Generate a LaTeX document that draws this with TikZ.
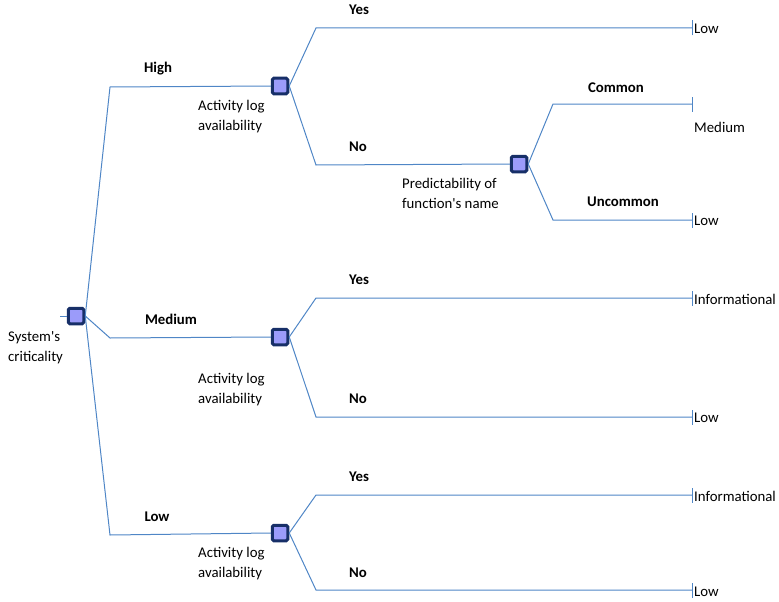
\documentclass[tikz,border=0pt]{standalone}
\usepackage{fontspec}
\setmainfont{Carlito}
\begin{document}
\definecolor{branch}{HTML}{4F86C6}
\definecolor{boxfill}{HTML}{9B9BFA}
\definecolor{boxline}{HTML}{172F68}
\begin{tikzpicture}[x=1pt,y=-1pt,
  font=\fontsize{14.8}{20}\selectfont,
  decision/.style={draw=boxline,line width=3pt,fill=boxfill,rounded corners=1.5pt,
    minimum size=15.5pt,inner sep=0pt},
  link/.style={draw=branch,line width=1pt},
  tick/.style={draw=branch,line width=1pt},
  choice/.style={font=\fontsize{14.8}{20}\selectfont\bfseries,inner sep=0pt},
  note/.style={align=left,anchor=west,inner sep=0pt},
  result/.style={anchor=west,inner sep=0pt}]
\useasboundingbox (0,0) rectangle (779,602);

% decision boxes
\node[decision] (root) at (76,316) {};
\node[decision] (hi)   at (280,86) {};
\node[decision] (pr)   at (519,164) {};
\node[decision] (me)   at (280,337) {};
\node[decision] (lo)   at (280,533) {};

% branch corners
\coordinate (cHigh) at (110,87);
\coordinate (cMed)  at (110,338);
\coordinate (cLow)  at (110,535);
\coordinate (hYes)  at (316,28);
\coordinate (hNo)   at (316,165);
\coordinate (pCom)  at (553,104);
\coordinate (pUnc)  at (553,220);
\coordinate (mYes)  at (316,298);
\coordinate (mNo)   at (316,417);
\coordinate (lYes)  at (316,495);
\coordinate (lNo)   at (316,590);

% end points
\coordinate (eHY) at (692,28);
\coordinate (ePC) at (692,104);
\coordinate (ePU) at (692,220);
\coordinate (eMY) at (692,298);
\coordinate (eMN) at (692,417);
\coordinate (eLY) at (692,495);
\coordinate (eLN) at (692,590);
\coordinate (stub) at (60,316);

% connectors
\draw[link] (stub) -- (root.west);
\draw[link] (root.east) -- (cHigh) -- (hi.west);
\draw[link] (root.east) -- (cMed) -- (me.west);
\draw[link] (root.east) -- (cLow) -- (lo.west);
\draw[link] (hi.east) -- (hYes) -- (eHY);
\draw[link] (hi.east) -- (hNo) -- (pr.west);
\draw[link] (pr.east) -- (pCom) -- (ePC);
\draw[link] (pr.east) -- (pUnc) -- (ePU);
\draw[link] (me.east) -- (mYes) -- (eMY);
\draw[link] (me.east) -- (mNo) -- (eMN);
\draw[link] (lo.east) -- (lYes) -- (eLY);
\draw[link] (lo.east) -- (lNo) -- (eLN);

% terminal ticks
\foreach \e in {eHY,ePC,ePU,eMY,eMN,eLY,eLN}
  \draw[tick] ([yshift=-7.5pt]\e) -- ([yshift=7.5pt]\e);

% branch labels
\node[choice] (tHigh) at (158,69) {High};
\node[choice] (tMed)  at (171,319) {Medium};
\node[choice] (tLow)  at (157,517) {Low};
\node[choice] (tHY)   at (359,10) {Yes};
\node[choice] (tHN)   at (358,147) {No};
\node[choice] (tPC)   at (616,88) {Common};
\node[choice] (tPU)   at (623,202) {Uncommon};
\node[choice] (tMY)   at (359,280) {Yes};
\node[choice] (tMN)   at (358,399) {No};
\node[choice] (tLY)   at (359,477) {Yes};
\node[choice] (tLN)   at (358,573) {No};

% decision notes
\node[note] (nRoot) at (8,348) {System\textquotesingle s\\criticality};
\node[note] (nHi)   at (198,117) {Activity log\\availability};
\node[note] (nPr)   at (402,193) {Predictability of\\function\textquotesingle s name};
\node[note] (nMe)   at (198,390) {Activity log\\availability};
\node[note] (nLo)   at (198,564) {Activity log\\availability};

% outcomes
\node[result] (rHY) at (694,29) {Low};
\node[result] (rPC) at (694,127) {Medium};
\node[result] (rPU) at (694,221) {Low};
\node[result] (rMY) at (694,299) {Informational};
\node[result] (rMN) at (694,418) {Low};
\node[result] (rLY) at (694,496) {Informational};
\node[result] (rLN) at (694,592) {Low};
\end{tikzpicture}
\end{document}
